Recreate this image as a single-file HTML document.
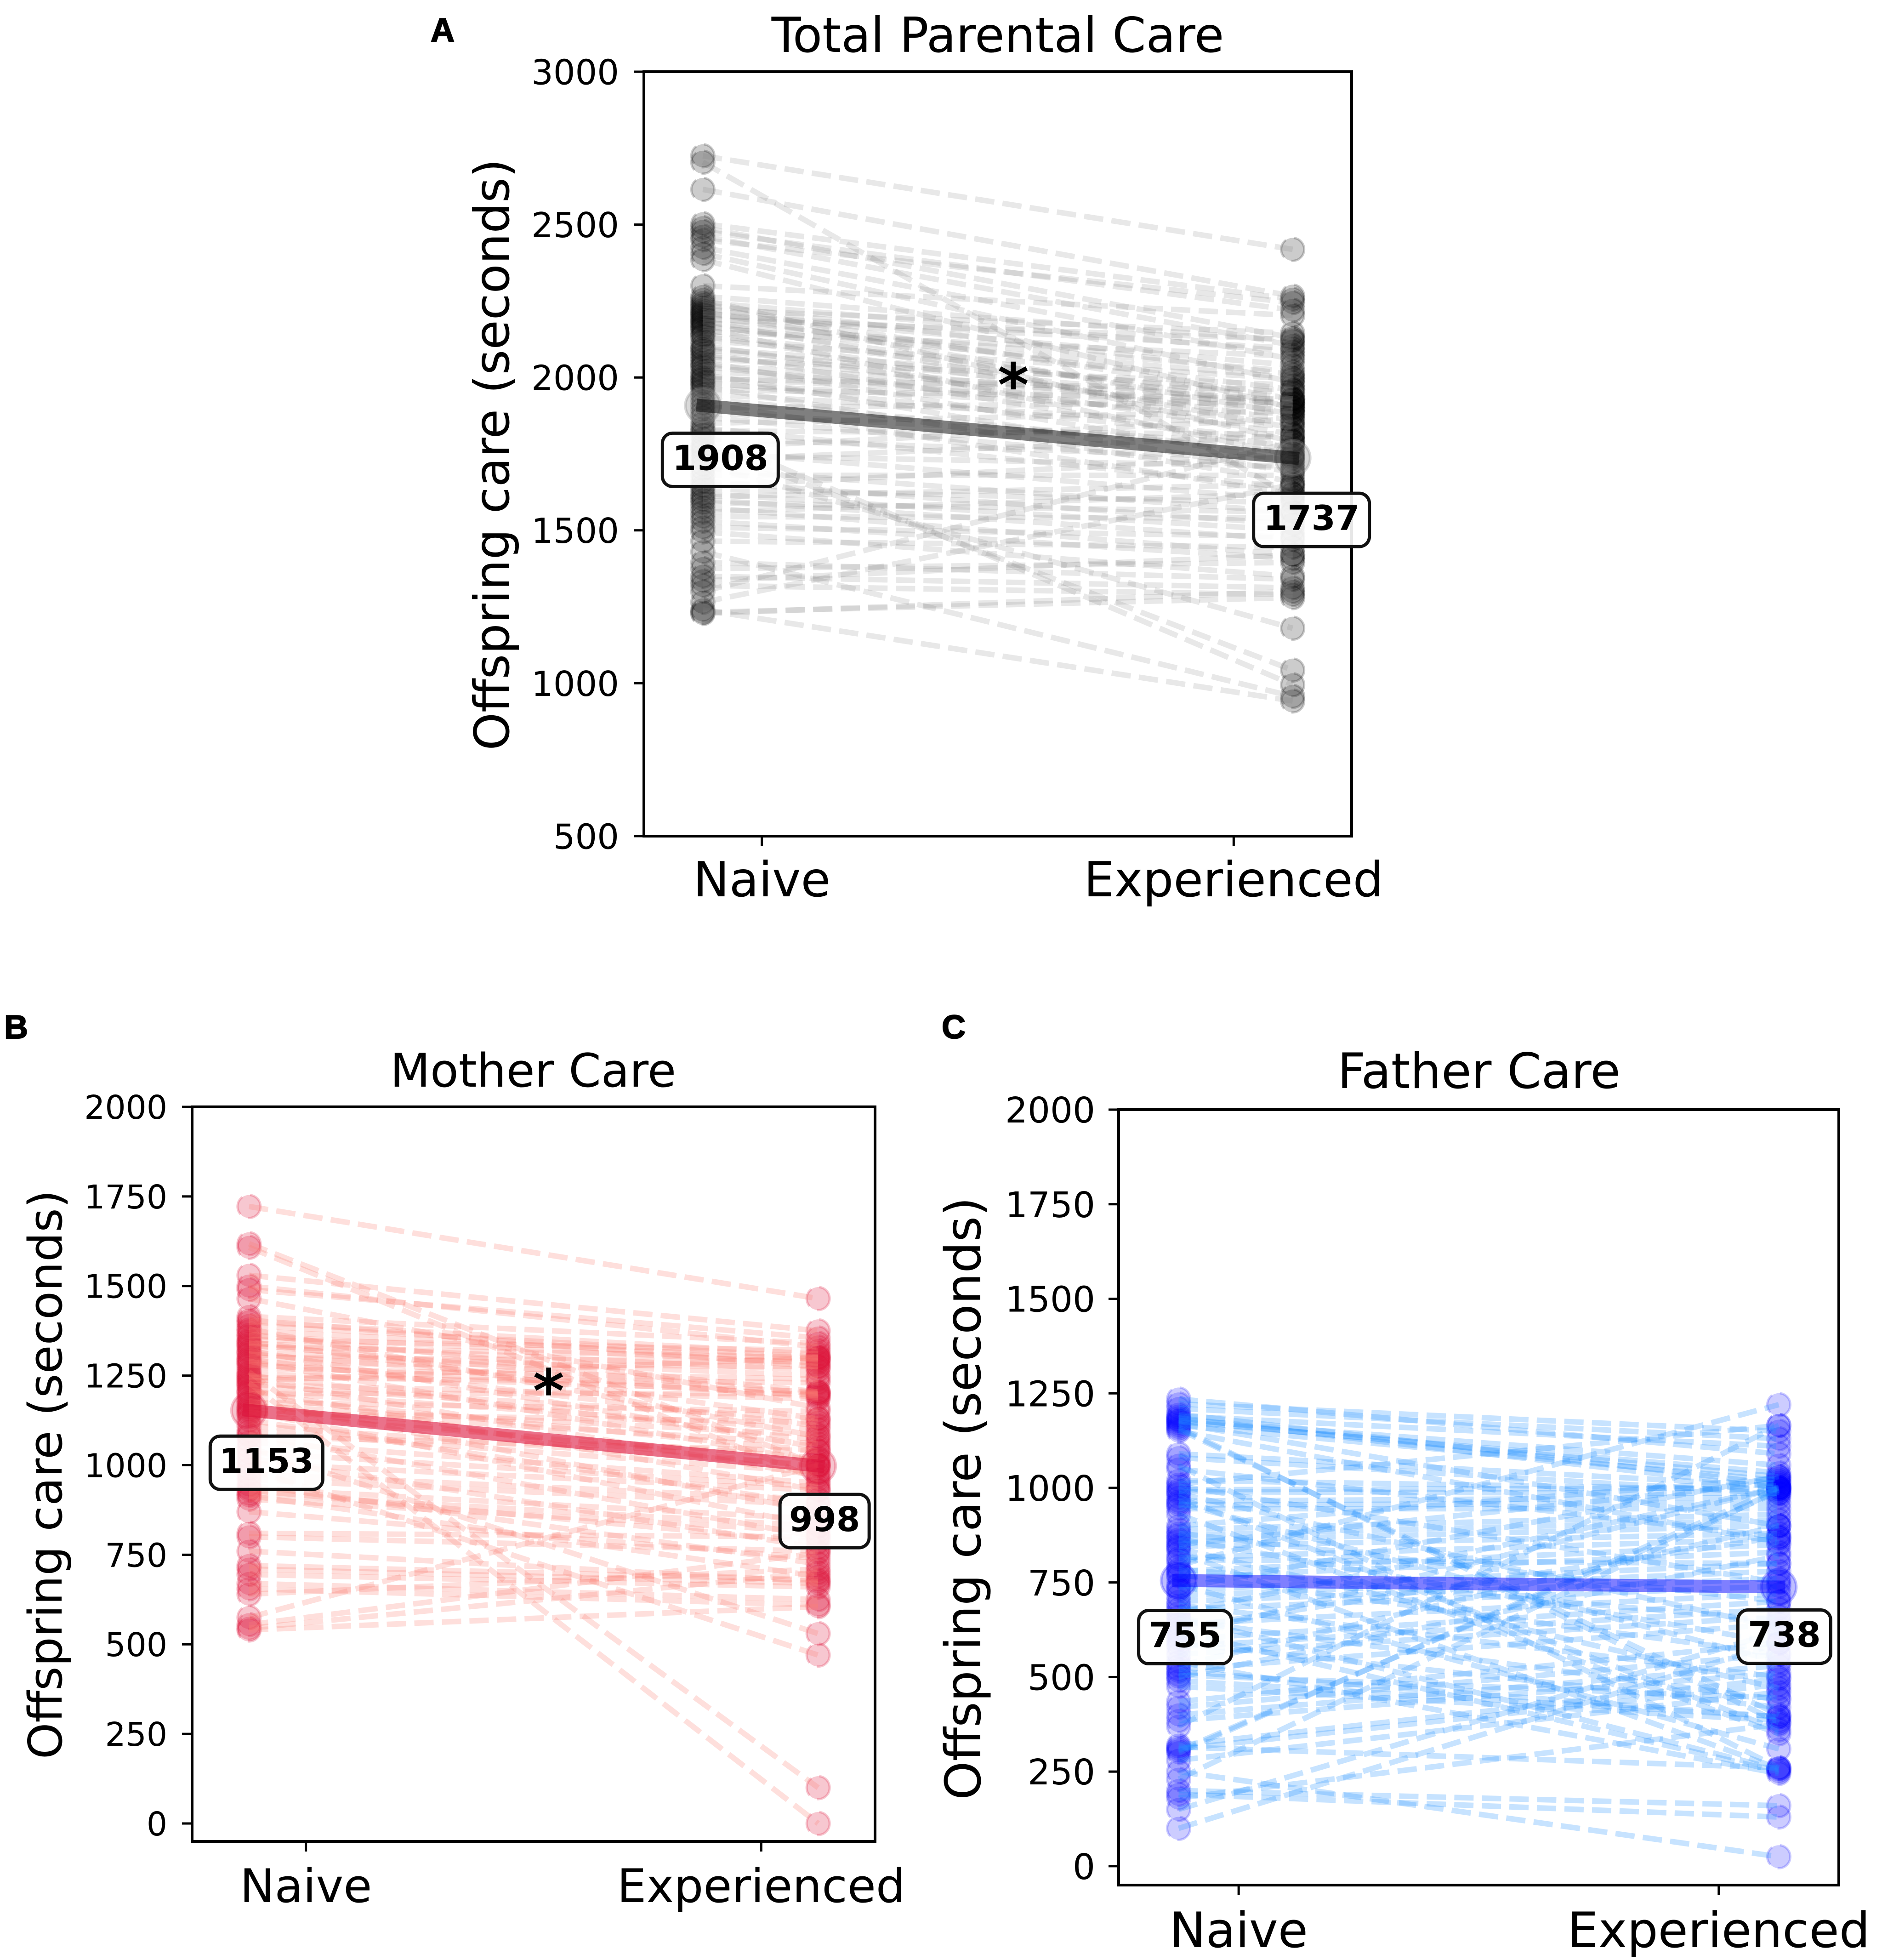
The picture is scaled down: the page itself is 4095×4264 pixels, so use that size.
<!DOCTYPE html>
<html lang="en">
<head>
<meta charset="utf-8">
<title>Parental care: naive vs experienced</title>
<style>
html,body{margin:0;padding:0;background:#fff}
svg{display:block}
text{font-family:"DejaVu Sans","Liberation Sans",sans-serif;fill:#000}
.letter{font-family:"Liberation Sans",sans-serif;font-weight:bold;font-size:72px;stroke:#000;stroke-width:2px}
</style>
</head>
<body>
<svg id="chart" xmlns="http://www.w3.org/2000/svg" width="4095" height="4264" viewBox="0 0 4095 4264">
<rect x="0" y="0" width="4095" height="4264" fill="#fff"/>
<text class="letter" x="937" y="90">A</text>
<text class="letter" x="9" y="2259">B</text>
<text class="letter" x="2049" y="2259">C</text>
<text x="2171" y="113" text-anchor="middle" font-size="105">Total Parental Care</text>
<text x="1160" y="2364" text-anchor="middle" font-size="101">Mother Care</text>
<text x="3218" y="2367" text-anchor="middle" font-size="106.5">Father Care</text>
<text transform="translate(1107,989) rotate(-90)" text-anchor="middle" font-size="105">Offspring care (seconds)</text>
<text transform="translate(134,3208) rotate(-90)" text-anchor="middle" font-size="101">Offspring care (seconds)</text>
<text transform="translate(2133,3260) rotate(-90)" text-anchor="middle" font-size="107">Offspring care (seconds)</text>
</svg>
<script>
const categories = ['Naive', 'Experienced'];

const totalNaive = [2725,2704,2615,2503,2490,2478,2462,2450,2425,2405,
2385,2300,2265,2255,2245,2238,2230,2222,2215,2210,
2205,2198,2190,2185,2180,2172,2165,2160,2150,2140,
2135,2120,2105,2095,2090,2080,2070,2060,2050,2040,
2035,2020,2010,2000,1995,1985,1980,1970,1960,1945,
1930,1915,1900,1885,1870,1850,1835,1825,1815,1800,
1780,1770,1760,1745,1730,1715,1700,1680,1660,1645,
1635,1620,1610,1600,1590,1575,1560,1545,1530,1510,
1495,1465,1430,1395,1375,1350,1335,1320,1300,1265,
1240,1232,1228];
const totalExperienced = [2419,1610,2266,2256,2130,2220,2105,2245,2060,1985,
1900,2203,2120,1790,2085,2010,1930,2145,1880,2040,
2095,1960,2125,1835,2020,1905,2000,1745,2070,1930,
1860,1995,1815,1950,1915,1770,1890,1975,1725,1925,
1850,1915,1690,1900,1960,1795,1880,1660,1930,1840,
1755,1620,1920,1780,1700,1890,1640,1815,995,1735,
1043,1865,1600,1710,1810,1180,1560,1680,1520,1740,
1590,1500,1650,1470,1560,1420,1620,1540,1407,1480,
1350,1445,957,1340,1395,1312,1420,1290,1790,1650,
942,1280,1300];
const totalMeans = [1908, 1737];
const totalTicks = [500, 1000, 1500, 2000, 2500, 3000];

const motherNaive = [1722,1618,1608,1530,1500,1490,1465,1415,1405,1400,
1390,1380,1375,1365,1360,1350,1345,1340,1335,1330,
1320,1315,1310,1300,1295,1290,1285,1280,1270,1260,
1255,1250,1245,1240,1235,1230,1225,1220,1210,1205,
1200,1190,1180,1175,1165,1160,1155,1150,1145,1140,
1125,1110,1095,1085,1080,1065,1050,1035,1020,1005,
990,975,960,945,935,930,920,915,905,870,
810,800,760,720,710,695,670,655,640,575,
555,545,540];
const motherExperienced = [1465,1000,960,1375,1330,1355,1160,1340,1275,1310,
1302,1080,1295,1205,1285,1320,1130,1265,1200,1300,
1050,1250,1190,1290,1110,1010,1275,1195,1240,100,
1205,1070,1230,970,1300,0,1185,1130,930,1100,
1200,1040,870,1150,1085,995,1060,830,1120,1020,
890,1000,980,800,1040,950,530,940,770,930,
470,905,890,725,850,785,830,690,815,740,
800,760,675,680,670,660,625,610,710,1000,
755,700,605];
const motherMeans = [1153, 998];
const motherTicks = [0, 250, 500, 750, 1000, 1250, 1500, 1750, 2000];

const fatherNaive = [1235,1222,1210,1195,1190,1185,1180,1178,1175,1170,
1165,1160,1155,1150,1090,1080,1060,1050,1020,1010,
1005,995,990,985,975,965,960,955,945,930,
900,890,880,875,865,860,850,845,840,830,
815,810,795,785,780,770,765,745,735,730,
715,700,690,680,670,660,650,640,630,620,
610,600,590,580,560,540,530,520,515,505,
500,490,475,435,420,400,385,370,320,315,
310,305,300,280,250,230,200,190,180,150,
100];
const fatherExperienced = [1090,1150,1130,1010,1110,1000,1060,1030,1040,900,
1020,380,400,855,1005,985,260,870,995,1165,
750,1000,985,630,360,975,540,960,945,350,
1025,930,700,915,590,900,1015,880,470,258,
865,800,1220,650,850,560,830,310,1030,800,
780,760,500,740,1000,255,440,720,870,250,
1000,700,420,680,660,245,900,640,395,445,
820,395,385,590,560,530,510,1165,495,260,
480,990,1000,460,25,995,160,130,375,620,
590];
const fatherMeans = [755, 738];
const fatherTicks = [0, 250, 500, 750, 1000, 1250, 1500, 1750, 2000];

const NS = 'http://www.w3.org/2000/svg';
const svg = document.getElementById('chart');
function el(tag, attrs, parent) {
  const node = document.createElementNS(NS, tag);
  for (const key in attrs) node.setAttribute(key, attrs[key]);
  parent.appendChild(node);
  return node;
}

function drawPanel(id, g, naive, experienced, means, ticks) {
  const xScale = v => g.left + (v + 0.25) / 1.5 * (g.right - g.left);
  const yScale = v => g.bottom - (v - g.yMin) / (g.yMax - g.yMin) * (g.bottom - g.top);
  const xNaive = xScale(-0.125);
  const xExp = xScale(1.125);

  const panel = el('g', {}, svg);
  
  

  naive.forEach(function (v) {
    const dot = el('circle', {cx: xNaive, cy: yScale(v), r: 25, fill: g.dot, 'fill-opacity': g.dotAlpha, stroke: g.dot, 'stroke-opacity': g.dotAlpha, 'stroke-width': 5, 'stroke-dasharray': '42 18'}, panel);
    
    
  });
  experienced.forEach(function (v) {
    const dot = el('circle', {cx: xExp, cy: yScale(v), r: 25, fill: g.dot, 'fill-opacity': g.dotAlpha, stroke: g.dot, 'stroke-opacity': g.dotAlpha, 'stroke-width': 5, 'stroke-dasharray': '42 18'}, panel);
    
    
  });
  naive.forEach(function (v, i) {
    if (experienced[i] === undefined) return;
    const line = el('line', {x1: xNaive, y1: yScale(v), x2: xExp, y2: yScale(experienced[i]), stroke: g.line, 'stroke-opacity': g.lineAlpha, 'stroke-width': 12, 'stroke-dasharray': '42 18'}, panel);
    
    
  });

  [xNaive, xExp].forEach(function (x, i) {
    const mean = el('circle', {cx: x, cy: yScale(means[i]), r: 38, fill: g.meanDot, 'fill-opacity': g.meanDotAlpha, stroke: g.meanDot, 'stroke-opacity': g.meanDotAlpha, 'stroke-width': 6}, panel);
    
    
  });
  const meanLine = el('line', {x1: xNaive, y1: yScale(means[0]), x2: xExp, y2: yScale(means[1]), stroke: g.dot, 'stroke-opacity': g.meanAlpha, 'stroke-width': 28, 'stroke-linecap': 'square'}, panel);
  
  

  const frame = el('rect', {x: g.left, y: g.top, width: g.right - g.left, height: g.bottom - g.top, fill: 'none', stroke: '#000', 'stroke-width': 6}, panel);
  
  

  ticks.forEach(function (t) {
    const y = yScale(t);
    const mark = el('line', {x1: g.left - 22, y1: y, x2: g.left, y2: y, stroke: '#000', 'stroke-width': 5}, panel);
    
    
    const label = el('text', {x: g.left - g.tickGap, y: y + g.tickFont * 0.365, 'text-anchor': 'end', 'font-size': g.tickFont}, panel);
    
    
    label.textContent = String(t);
  });

  categories.forEach(function (c, i) {
    const x = xScale(i);
    const mark = el('line', {x1: x, y1: g.bottom, x2: x, y2: g.bottom + 22, stroke: '#000', 'stroke-width': 5}, panel);
    
    
    const label = el('text', {x: x, y: g.xLabelY, 'text-anchor': 'middle', 'font-size': g.xFont}, panel);
    
    
    label.textContent = c;
  });

  if (g.star) {
    const star = el('text', {x: xScale(0.533), y: yScale(g.starValue) + 62, 'text-anchor': 'middle', 'font-size': 130, 'font-weight': 'bold'}, panel);
    
    
    star.textContent = '*';
  }

  [xNaive, xExp].forEach(function (x, i) {
    const cx = x + g.boxDx[i];
    const cy = yScale(means[i]) + g.boxDy[i];
    const w = g.boxW[i];
    const box = el('rect', {x: cx - w / 2, y: cy - 58, width: w, height: 116, rx: 22, ry: 22, fill: '#fff', 'fill-opacity': 0.9, stroke: '#111', 'stroke-width': 7}, panel);
    
    
    const txt = el('text', {x: cx, y: cy + 22, 'text-anchor': 'middle', 'font-size': g.boxFont, 'font-weight': 'bold'}, panel);
    
    
    txt.textContent = String(means[i]);
  });
}

const geometryA = {left: 1401, right: 2941, top: 156, bottom: 1819, yMin: 500, yMax: 3000, tickFont: 75, tickGap: 54, xFont: 105, xLabelY: 1950, dot: '#000', dotAlpha: 0.2, line: '#808080', lineAlpha: 0.18, meanDot: '#808080', meanDotAlpha: 0.3, meanAlpha: 0.5, star: true, starValue: 2000, boxDx: [38, 41], boxDy: [118, 135], boxW: [252, 252], boxFont: 75};
const geometryB = {left: 418, right: 1904, top: 2408, bottom: 4006, yMin: -50, yMax: 2000, tickFont: 71, tickGap: 54, xFont: 101, xLabelY: 4138, dot: '#dc143c', dotAlpha: 0.24, line: '#fa8072', lineAlpha: 0.25, meanDot: '#dc143c', meanDotAlpha: 0.25, meanAlpha: 0.6, star: true, starValue: 1228, boxDx: [38, 14], boxDy: [114, 120], boxW: [245, 194], boxFont: 74};
const geometryC = {left: 2434, right: 4001, top: 2414, bottom: 4101, yMin: -50, yMax: 2000, tickFont: 77, tickGap: 51, xFont: 106, xLabelY: 4236, dot: '#0000ff', dotAlpha: 0.2, line: '#1e90ff', lineAlpha: 0.25, meanDot: '#0000ff', meanDotAlpha: 0.25, meanAlpha: 0.5, star: false, starValue: 0, boxDx: [14, 12], boxDy: [123, 108], boxW: [202, 202], boxFont: 76};

drawPanel('total-care', geometryA, totalNaive, totalExperienced, totalMeans, totalTicks);
drawPanel('mother-care', geometryB, motherNaive, motherExperienced, motherMeans, motherTicks);
drawPanel('father-care', geometryC, fatherNaive, fatherExperienced, fatherMeans, fatherTicks);
</script>
</body>
</html>
